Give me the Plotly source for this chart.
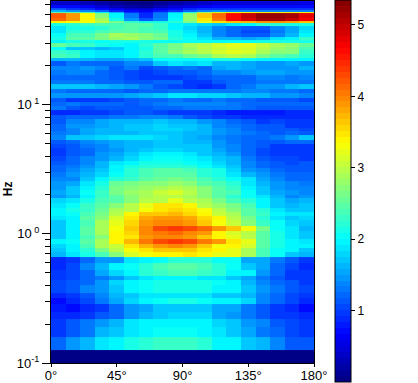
import plotly.graph_objects as go

angle_edges = [0, 10, 20, 30, 40, 50, 60, 70, 80, 90, 100, 110, 120, 130, 140, 150, 160, 170, 180]

# frequency band edges in Hz, top of chart first
freq_edges = [63.5, 59.18, 56.10, 53.66, 52.25, 50.89, 46.97, 44.54, 42.60, 40.74, 37.96, 35.66, 33.51, 31.76, 30.12,
              28.04, 26.60, 24.76, 23.07, 21.87, 20.01, 18.63, 17.05, 15.60, 14.527, 13.292, 12.380, 11.327, 10.549,
              9.8243, 9.1497, 8.3720, 7.7980, 7.1353, 6.6464, 6.2982, 5.8658, 5.3666, 4.9976, 4.6557, 4.3361, 4.0385,
              3.6948, 3.4411, 3.2049, 2.9849, 2.7308, 2.5434, 2.3270, 2.1672, 1.9830, 1.8796, 1.7199, 1.5878, 1.4655,
              1.3650, 1.2713, 1.1426, 1.0455, 0.9824, 0.9067, 0.8295, 0.7727, 0.7196, 0.6585, 0.5919, 0.5225, 0.4739,
              0.4375, 0.4003, 0.3490, 0.3177, 0.2856, 0.2489, 0.2186, 0.1907, 0.1595, 0.1259, 0.1]

# band power per angle sector, top of chart first
power = [
 [.4,.4,.3,.25,.15,.05,.03,.1,.2,.3,.4,.45,.45,.5,.5,.5,.5,.55],
 [.7,.7,.6,.45,.3,.2,.15,.3,.45,.55,.65,.7,.7,.7,.7,.7,.7,.7],
 [1.1,1.0,.9,.75,.65,.5,.45,.65,.75,.85,.95,1.0,1.0,1.0,1.0,1.0,1.0,1.0],
 [1.6,1.5,1.4,1.2,.9,.7,.6,.8,1,1.2,1.4,1.5,1.4,1.4,1.4,1.4,1.4,1.4],
 [2.5,2.5,2.4,2,1.6,1.0,.8,1.2,1.7,2.2,2.9,3.2,3.3,3.4,3.4,3.4,3.4,3.4],
 [4.2,3.9,3.4,2.7,2.0,1.3,.9,1.3,2.0,2.8,3.6,4.1,4.65,5.0,5.2,5.2,5.1,4.8],
 [4.1,3.85,3.4,2.85,2.1,1.5,1.1,1.4,2.05,2.8,3.5,4.05,4.6,4.9,5.1,5.1,5.0,4.7],
 [3.4,3.3,3.3,3.0,2.6,2.3,2.1,2.1,2.2,2.6,3.2,3.45,3.6,3.7,3.9,3.9,3.8,3.6],
 [2.1,2.2,2.3,2.4,2.4,2.45,2.45,2.3,2.0,1.9,1.8,1.7,1.9,2.0,2.2,2.2,2.1,2.1],
 [1.9,2.1,2.1,2.25,2.4,2.45,2.4,2.3,2.0,1.8,1.6,1.35,1.2,1.1,1.1,1.4,1.55,1.8],
 [1.9,2.2,2.2,2.35,2.5,2.5,2.4,2.35,2.1,1.9,1.6,1.35,1.2,1.05,1.05,1.3,1.55,1.85],
 [2.05,2.4,2.35,2.6,2.85,2.8,2.75,2.55,2.15,1.95,1.7,1.4,1.25,1.1,1.15,1.4,1.65,1.95],
 [2.1,2.5,2.5,2.65,2.8,2.85,2.75,2.6,2.2,2.05,1.85,1.65,1.6,1.55,1.6,1.85,2.0,2.3],
 [1.95,2.1,2.1,2.05,2.1,2.1,2.1,2.05,2.05,2.05,2.05,2.05,2.05,2.05,2.1,2.15,2.1,2.1],
 [2.55,2.4,2.3,2.1,2.05,2.0,2.2,2.5,2.6,2.85,2.95,3.1,3.25,3.25,3.05,2.85,2.8,2.55],
 [2.05,1.75,1.7,1.65,1.75,1.95,2.15,2.45,2.6,2.8,2.95,3.05,3.1,3.1,3.0,2.8,2.7,2.4],
 [2.3,2.2,2.0,1.85,1.85,2.0,2.2,2.5,2.7,2.85,3.0,3.15,3.2,3.1,2.9,2.75,2.7,2.3],
 [2.4,2.3,1.95,1.85,1.85,2.0,2.25,2.4,2.4,2.55,2.65,2.85,2.95,2.9,2.6,2.5,2.4,2.2],
 [1.6,1.6,1.6,1.55,1.55,1.6,1.75,2.05,2.05,2.05,2.05,2.1,2.1,2.05,2.0,2.0,1.95,1.95],
 [1.15,1.3,1.2,1.2,1.25,1.35,1.4,1.75,1.85,1.8,1.85,1.65,1.6,1.55,1.45,1.5,1.55,1.5],
 [1.35,1.4,1.5,1.35,1.15,1.3,1.05,1.1,1.25,1.3,1.25,1.55,1.6,1.55,1.5,1.5,1.5,1.6],
 [1.3,1.35,1.35,1.25,1.1,1.05,1.0,1.05,1.1,1.15,1.2,1.35,1.4,1.5,1.55,1.55,1.45,1.5],
 [1.25,1.2,1.2,1.2,1.15,1.05,1.0,.95,1.0,1.05,1.1,1.2,1.2,1.25,1.35,1.35,1.3,1.35],
 [1.3,1.3,1.3,1.25,1.2,1.15,1.1,1.25,1.2,.95,.95,1.1,1.2,1.25,1.3,1.3,1.3,1.3],
 [1.75,1.72,1.72,1.65,1.55,1.45,1.3,1.15,1.05,1.0,.9,.95,1.2,1.3,1.45,1.5,1.6,1.7],
 [1.3,1.25,1.25,1.2,1.2,1.15,1.2,1.2,1.3,1.3,1.3,1.3,1.3,1.35,1.35,1.3,1.3,1.2],
 [1.45,1.45,1.45,1.45,1.5,1.55,1.65,1.75,1.85,1.85,1.8,1.8,1.75,1.65,1.6,1.5,1.5,1.4],
 [1.15,1.0,.95,.95,1.05,1.1,1.2,1.25,1.3,1.25,1.25,1.3,1.2,1.2,1.15,1.1,1.15,1.05],
 [1.25,1.3,1.2,1.2,1.2,1.15,1.2,1.3,1.35,1.35,1.35,1.35,1.3,1.25,1.2,1.2,1.2,1.2],
 [1.3,1.1,1.05,1.1,1.1,1.1,1.15,1.2,1.25,1.3,1.3,1.3,1.3,1.2,1.15,1.15,1.1,1.1],
 [.9,.9,.95,1.0,1.05,1.1,1.1,1.05,1.0,1.0,.95,.9,.82,.8,.8,.8,.85,.9],
 [1.1,1.2,1.2,1.2,1.3,1.3,1.35,1.35,1.3,1.1,1.05,.95,.95,.9,.9,.9,.9,.9],
 [1.15,1.4,1.4,1.55,1.6,1.65,1.65,1.7,1.65,1.6,1.5,1.4,1.25,1.15,1.0,1.05,1.0,1.0],
 [1.2,1.45,1.5,1.55,1.6,1.7,1.75,1.8,1.75,1.7,1.6,1.4,1.3,1.2,1.1,1.1,1.0,1.0],
 [1.25,1.4,1.55,1.6,1.65,1.7,1.75,1.8,1.8,1.75,1.65,1.5,1.35,1.2,1.15,1.1,1.1,1.05],
 [1.3,1.4,1.55,1.6,1.6,1.65,1.7,1.75,1.7,1.6,1.6,1.5,1.4,1.3,1.2,1.15,1.2,1.15],
 [1.4,1.75,1.75,1.8,1.85,1.85,1.85,1.8,1.7,1.6,1.55,1.4,1.3,1.25,1.2,1.3,1.45,1.75],
 [1.15,1.25,1.4,1.5,1.55,1.6,1.65,1.7,1.7,1.65,1.6,1.45,1.3,1.25,1.15,1.1,1.2,1.25],
 [1.05,1.15,1.3,1.4,1.55,1.6,1.65,1.75,1.7,1.75,1.75,1.45,1.4,1.2,1.1,1.0,1.0,1.0],
 [.95,1.15,1.2,1.4,1.5,1.6,1.7,1.8,1.8,1.75,1.7,1.55,1.4,1.2,1.05,.95,.95,.95],
 [1.0,1.15,1.25,1.45,1.55,1.7,1.85,1.95,1.95,1.85,1.75,1.6,1.45,1.25,1.05,.95,.95,.95],
 [1.05,1.2,1.35,1.5,1.65,1.8,2.0,2.05,2.05,2.0,1.9,1.75,1.6,1.3,1.15,1.05,1.05,1.0],
 [1.1,1.25,1.4,1.6,1.85,2.0,2.1,2.1,2.1,2.05,2.0,1.8,1.65,1.35,1.2,1.1,1.05,1.1],
 [1.2,1.3,1.5,1.65,1.95,2.1,2.2,2.2,2.2,2.2,2.05,1.85,1.7,1.4,1.25,1.15,1.15,1.1],
 [1.2,1.35,1.55,1.75,2.0,2.2,2.4,2.45,2.45,2.4,2.25,2.1,1.8,1.5,1.35,1.25,1.15,1.15],
 [1.3,1.45,1.6,1.8,2.05,2.25,2.4,2.5,2.5,2.45,2.25,2.1,1.9,1.65,1.5,1.3,1.2,1.2],
 [1.35,1.4,1.7,2.0,2.2,2.3,2.5,2.55,2.6,2.55,2.4,2.2,2.05,1.85,1.55,1.35,1.25,1.25],
 [1.45,1.55,1.85,2.15,2.55,2.6,2.7,2.75,2.8,2.7,2.5,2.4,2.25,1.9,1.6,1.45,1.35,1.3],
 [1.5,1.7,2.0,2.2,2.6,2.75,2.8,2.9,3.0,2.9,2.7,2.5,2.3,2.0,1.7,1.5,1.4,1.35],
 [1.55,1.75,2.05,2.3,2.6,2.8,2.85,3.05,3.1,3.0,2.75,2.5,2.35,2.05,1.75,1.55,1.45,1.4],
 [1.5,1.65,2.0,2.3,2.5,2.7,2.85,3.0,3.0,2.85,2.7,2.5,2.25,2.05,1.85,1.6,1.35,1.45],
 [1.8,1.85,2.15,2.35,2.5,2.75,3.0,3.0,3.2,3.0,2.85,2.6,2.4,2.25,1.95,1.7,1.55,1.6],
 [1.9,2.05,2.3,2.5,2.75,2.95,3.2,3.45,3.45,3.35,3.0,2.8,2.6,2.4,1.95,1.75,1.6,1.7],
 [2.0,2.1,2.3,2.55,2.85,3.0,3.3,3.5,3.55,3.45,3.3,3.0,2.7,2.45,2.2,1.85,1.7,1.75],
 [1.95,2.05,2.35,2.6,3.0,3.4,3.6,3.6,3.7,3.55,3.35,3.05,2.85,2.5,2.3,2.0,1.85,1.85],
 [1.85,2.0,2.45,2.75,3.15,3.45,3.8,3.85,3.85,3.8,3.55,3.4,2.95,2.65,2.2,1.85,1.75,1.8],
 [1.7,2.0,2.4,2.85,3.25,3.55,3.85,3.95,3.95,3.85,3.65,3.3,3.05,2.7,2.3,2.05,1.8,1.7],
 [1.7,2.0,2.45,2.9,3.3,3.65,4.0,4.3,4.35,4.3,4.1,3.9,3.6,3.3,2.6,2.05,1.85,1.65],
 [1.7,1.95,2.45,2.85,3.35,3.55,3.95,4.05,4.1,4.0,3.85,3.4,3.1,2.95,2.5,2.1,1.9,1.7],
 [1.75,2.0,2.35,2.75,3.35,3.45,3.85,3.95,4.0,3.9,3.65,3.4,3.2,3.0,2.45,2.1,1.9,1.75],
 [1.95,2.05,2.5,2.85,3.35,3.7,4.05,4.3,4.35,4.3,4.05,3.85,3.45,3.25,2.5,2.15,1.95,1.85],
 [1.8,1.95,2.4,2.85,3.05,3.45,3.7,3.9,3.95,3.85,3.6,3.3,3.35,3.1,2.5,2.1,1.95,1.95],
 [1.7,1.95,2.25,2.65,3.0,3.3,3.45,3.6,3.65,3.6,3.5,3.35,3.2,2.85,2.4,2.05,1.95,1.75],
 [1.65,1.9,2.1,2.4,2.75,3.1,3.3,3.35,3.4,3.45,3.35,3.2,3.2,2.9,2.35,2.05,1.75,1.65],
 [.9,1.0,1.2,1.45,1.5,1.85,1.95,2.05,2.2,2.25,2.2,2.05,2.05,1.55,1.55,1.3,1.1,1.0],
 [.85,1.05,1.4,1.6,2.0,2.05,2.25,2.35,2.45,2.45,2.4,2.2,2.05,1.75,1.55,1.25,1.05,.9],
 [.95,1.05,1.25,1.55,1.8,2.0,2.2,2.3,2.35,2.35,2.3,2.2,2.0,1.95,1.45,1.25,1.0,.95],
 [1.0,1.05,1.2,1.3,1.5,1.7,1.85,1.95,1.95,1.95,1.9,1.85,1.75,1.55,1.3,1.1,1.0,.95],
 [1.05,1.1,1.25,1.5,1.8,2.0,2.05,2.15,2.15,2.15,2.15,2.05,1.95,1.65,1.4,1.25,1.1,1.0],
 [1.05,1.15,1.35,1.5,1.75,2.0,2.05,2.1,2.1,2.1,2.1,2.0,1.95,1.75,1.45,1.3,1.15,1.05],
 [.9,1.0,1.15,1.35,1.6,1.75,1.9,1.9,1.9,1.9,1.85,1.75,1.7,1.6,1.4,1.2,1.05,.95],
 [.75,.85,1.05,1.3,1.55,1.8,2.0,2.05,2.1,2.1,2.05,2.0,1.95,1.8,1.4,1.25,1.05,.85],
 [.8,.75,.9,1.0,1.25,1.45,1.55,1.7,1.75,1.75,1.7,1.55,1.55,1.3,1.15,1.0,.9,.75],
 [.9,.9,1.0,1.15,1.25,1.45,1.6,1.75,1.8,1.8,1.8,1.55,1.5,1.3,1.15,1.0,.95,.9],
 [.95,1.1,1.3,1.45,1.6,1.85,1.95,2.0,2.0,2.0,2.0,1.8,1.7,1.5,1.35,1.1,1.05,1.0],
 [1.0,1.15,1.3,1.6,1.7,1.9,2.0,2.05,2.05,2.05,2.0,1.85,1.75,1.55,1.3,1.2,1.05,1.0],
 [1.2,1.45,1.6,1.85,2.0,2.1,2.25,2.3,2.3,2.3,2.2,2.0,1.93,1.75,1.6,1.35,1.15,1.1],
 [.02]*18,
]

x_tick_vals = [0, 45, 90, 135, 180]
x_tick_text = ["0°", "45°", "90°", "135°", "180°"]
y_tick_vals = [0.1, 1, 10]
y_tick_text = ["10<sup>-1</sup>", "10<sup> 0</sup>", "10<sup> 1</sup>"]
y_minor_vals = [.2, .3, .4, .5, .6, .7, .8, .9, 2, 3, 4, 5, 6, 7, 8, 9, 20, 30, 40, 50, 60]
bar_ticks = [1, 2, 3, 4, 5]
z_low, z_high = 0.0, 5.35
LEVELS = 64


def jet(t):
    ramp = lambda v: max(0.0, min(1.0, v))
    return (ramp(1.5 - abs(4 * t - 3)), ramp(1.5 - abs(4 * t - 2)), ramp(1.5 - abs(4 * t - 1)))


stepped = []
for i in range(LEVELS):
    r, g, b = jet((i + 0.5) / LEVELS)
    colour = f"rgb({round(r * 255)},{round(g * 255)},{round(b * 255)})"
    stepped += [[i / LEVELS, colour], [(i + 1) / LEVELS, colour]]

font = "Liberation Sans, Arial, sans-serif"
fig = go.Figure(go.Heatmap(
    x=angle_edges, y=freq_edges[::-1], z=power[::-1],
    zmin=z_low, zmax=z_high, colorscale=stepped, zsmooth=False,
    hoverinfo="skip",
    colorbar=dict(
        thicknessmode="pixels", thickness=16, lenmode="pixels", len=382,
        x=(335 - 51) / 263, xanchor="left", y=1 + 1 / 362, yanchor="top", ypad=0, xpad=0,
        outlinecolor="black", outlinewidth=1, ticks="outside", ticklen=4, tickcolor="black",
        tickvals=bar_ticks, tickfont=dict(family=font, size=12, color="black"),
    ),
))
fig.update_layout(
    width=418, height=383, autosize=False,
    margin=dict(l=51, r=104, t=1, b=20, pad=0, autoexpand=False),
    paper_bgcolor="white", plot_bgcolor="white",
    xaxis=dict(range=[0, 180], tickvals=x_tick_vals, ticktext=x_tick_text, ticks="outside", ticklen=3,
               ticklabelstandoff=-3,
               tickcolor="black", showgrid=False, zeroline=False, showline=True, linecolor="black",
               linewidth=1, mirror=True, tickfont=dict(family=font, size=13, color="black")),
    yaxis=dict(type="log", range=[-1, 1.8031], tickvals=y_tick_vals, ticktext=y_tick_text, ticks="outside",
               ticklen=8, tickcolor="black", showgrid=False, zeroline=False, showline=True, linecolor="black",
               linewidth=1, mirror=True, tickfont=dict(family=font, size=13, color="black"),
               minor=dict(tickvals=y_minor_vals, ticks="outside", ticklen=5, tickcolor="black", showgrid=False)),
    annotations=[dict(text="<b>Hz</b>", textangle=-90, xref="paper", yref="paper", x=-43 / 263, y=0.48,
                      xanchor="center", yanchor="middle", showarrow=False,
                      font=dict(family=font, size=12, color="black"))],
)
fig.write_html("out.html", config={"displayModeBar": False}, post_script="document.body.style.margin='0';")
